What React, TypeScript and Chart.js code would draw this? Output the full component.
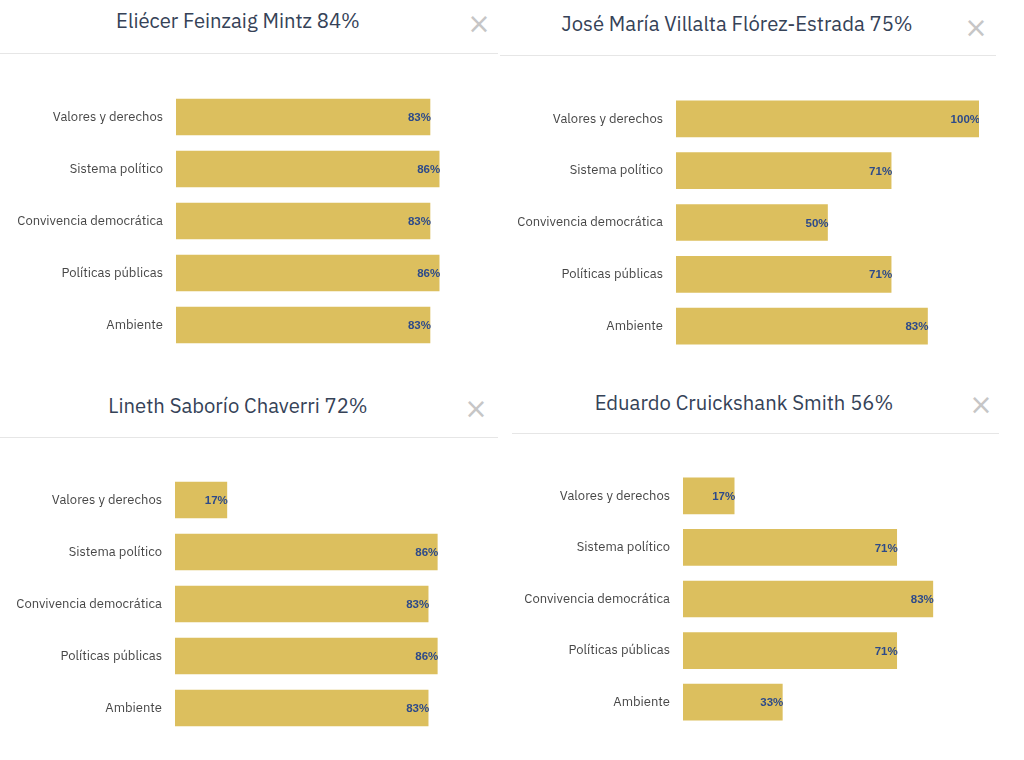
import React, { useRef, useEffect } from "react";
import Chart from "chart.js/auto";

const categories = [
  "Valores y derechos",
  "Sistema político",
  "Convivencia democrática",
  "Políticas públicas",
  "Ambiente",
];

const titles = [
  "Eliécer Feinzaig Mintz 84%",
  "José María Villalta Flórez-Estrada 75%",
  "Lineth Saborío Chaverri 72%",
  "Eduardo Cruickshank Smith 56%",
];

const feinzaigValues = [83, 86, 83, 86, 83];
const villaltaValues = [100, 71, 50, 71, 83];
const saborioValues = [17, 86, 83, 86, 83];
const cruickshankValues = [17, 71, 83, 71, 33];

const FONT = "'IBM Plex Sans', Roboto, 'Noto Sans', sans-serif";
const BAR_COLOR = "#dcbf5e";
const LABEL_BLUE = "#2d4a8a";

// escribe el porcentaje al final de cada barra
const valueLabels = {
  id: "valueLabels",
  afterDatasetsDraw(chart: any) {
    const ctx = chart.ctx;
    const meta = chart.getDatasetMeta(0);
    const data = chart.data.datasets[0].data;
    ctx.save();
    ctx.font = "bold 11.5px 'Liberation Sans', Arial, sans-serif";
    ctx.fillStyle = LABEL_BLUE;
    ctx.textAlign = "right";
    ctx.textBaseline = "middle";
    meta.data.forEach((bar: any, i: number) => {
      ctx.fillText(data[i] + "%", bar.x + 1, bar.y + 1);
    });
    ctx.restore();
  },
};

interface BarsProps {
  values: number[];
  width: number;
  height: number;
}

const Bars: React.FC<BarsProps> = ({ values, width, height }) => {
  const chartRef = useRef<HTMLCanvasElement>(null);
  const chartInstance = useRef<Chart | null>(null);

  useEffect(() => {
    if (!chartRef.current) return;
    const ctx = chartRef.current.getContext("2d");
    if (!ctx) return;
    if (chartInstance.current) chartInstance.current.destroy();

    chartInstance.current = new Chart(ctx, {
      type: "bar",
      data: {
        labels: categories,
        datasets: [
          {
            data: values,
            backgroundColor: BAR_COLOR,
            barThickness: 36,
          },
        ],
      },
      options: {
        indexAxis: "y",
        animation: false,
        responsive: false,
        maintainAspectRatio: false,
        layout: { padding: 0 },
        plugins: {
          legend: { display: false },
          tooltip: { enabled: false },
        },
        scales: {
          x: { display: false, min: 0, max: 100 },
          y: {
            grid: { display: false, drawTicks: false },
            border: { display: false },
            ticks: {
              color: "#474747",
              padding: 13,
              font: { family: FONT, size: 13 },
            },
            afterFit(scale: any) {
              scale.width = 176;
              // el padding de las etiquetas no debe encoger el alto
              scale.paddingTop = 0;
              scale.paddingBottom = 0;
            },
          },
        },
      },
      plugins: [valueLabels],
    });

    return () => {
      if (chartInstance.current) {
        chartInstance.current.destroy();
        chartInstance.current = null;
      }
    };
  }, [values, width, height]);

  return <canvas ref={chartRef} width={width} height={height} style={{ width, height }} />;
};

interface PanelProps {
  title: string;
  values: number[];
  titleX: number;
  titleY: number;
  closeX: number;
  closeY: number;
  ruleY: number;
  ruleLeft: number;
  ruleRight: number;
  chartLeft: number;
  chartTop: number;
  chartWidth: number;
  chartHeight: number;
}

const Panel: React.FC<PanelProps> = (p) => (
  <>
    <div
      style={{
        position: "absolute",
        left: p.titleX - 300,
        top: p.titleY - 14,
        width: 600,
        textAlign: "center",
        fontFamily: FONT,
        fontSize: 20.3,
        lineHeight: "28px",
        color: "#354257",
        whiteSpace: "nowrap",
      }}
    >
      {p.title}
    </div>
    <div
      style={{
        position: "absolute",
        left: p.closeX - 15,
        top: p.closeY - 17,
        width: 30,
        textAlign: "center",
        fontFamily: "'DejaVu Sans', sans-serif",
        fontSize: 28,
        lineHeight: "34px",
        color: "#c6c6c6",
      }}
    >
      ×
    </div>
    <div
      style={{
        position: "absolute",
        left: p.ruleLeft,
        top: p.ruleY,
        width: p.ruleRight - p.ruleLeft,
        height: 1,
        background: "#e6e6e6",
      }}
    />
    <div style={{ position: "absolute", left: p.chartLeft, top: p.chartTop }}>
      <Bars values={p.values} width={p.chartWidth} height={p.chartHeight} />
    </div>
  </>
);

const App: React.FC = () => (
  <div
    style={{
      position: "absolute",
      left: 0,
      top: 0,
      width: 1024,
      height: 760,
      background: "#ffffff",
      overflow: "hidden",
    }}
  >
    <Panel
      title={titles[0]}
      values={feinzaigValues}
      titleX={238}
      titleY={21}
      closeX={479}
      closeY={24}
      ruleY={53}
      ruleLeft={0}
      ruleRight={498}
      chartLeft={0}
      chartTop={91}
      chartWidth={482}
      chartHeight={260}
    />
    <Panel
      title={titles[1]}
      values={villaltaValues}
      titleX={737}
      titleY={24}
      closeX={976}
      closeY={28}
      ruleY={55}
      ruleLeft={500}
      ruleRight={996}
      chartLeft={500}
      chartTop={93}
      chartWidth={479}
      chartHeight={259}
    />
    <Panel
      title={titles[2]}
      values={saborioValues}
      titleX={238}
      titleY={406}
      closeX={476}
      closeY={409}
      ruleY={437}
      ruleLeft={0}
      ruleRight={498}
      chartLeft={-1}
      chartTop={474}
      chartWidth={481}
      chartHeight={260}
    />
    <Panel
      title={titles[3]}
      values={cruickshankValues}
      titleX={744}
      titleY={403}
      closeX={981}
      closeY={405}
      ruleY={433}
      ruleLeft={512}
      ruleRight={999}
      chartLeft={507}
      chartTop={470}
      chartWidth={477}
      chartHeight={258}
    />
  </div>
);

export default App;
